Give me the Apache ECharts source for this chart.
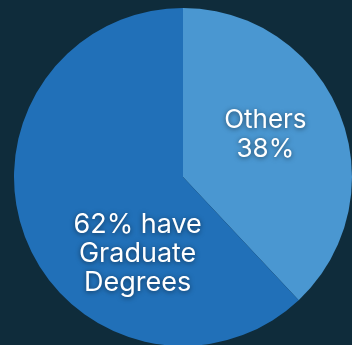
<!DOCTYPE html>
<html>
<head>
<meta charset="utf-8">
<style>
  html, body { margin: 0; padding: 0; background: #0f2c3b; }
  #chart { width: 352px; height: 345px; }
</style>
<script src="https://cdn.jsdelivr.net/npm/echarts@6/dist/echarts.min.js"></script>
</head>
<body>
<div id="chart"></div>
<script>
// Share of people with and without graduate degrees
const categories = ['Others', 'Graduate Degrees'];
const shares = [38, 62];
const labelTexts = ['Others\n38%', '62% have\nGraduate\nDegrees'];

const sliceColors = ['#4a97d1', '#2170b8'];
const labelOffsets = [[1, -10], [36, 45]];
const labelSizes = [26, 27];

const chart = echarts.init(document.getElementById('chart'));
chart.setOption({
  backgroundColor: '#0f2c3b',
  animation: false,
  series: [{
    type: 'pie',
    center: [183, 177],
    radius: [0, 169],
    startAngle: 90,
    clockwise: true,
    silent: true,
    label: {
      position: 'inside',
      color: '#ffffff',
      fontFamily: 'Inter',
      lineHeight: 29,
      align: 'center',
      textShadowColor: 'rgba(0,0,0,0.55)',
      textShadowBlur: 5,
      textShadowOffsetY: 1,
      formatter: p => labelTexts[p.dataIndex]
    },
    labelLine: { show: false },
    data: categories.map((name, i) => ({
      name,
      value: shares[i],
      itemStyle: { color: sliceColors[i] },
      label: { offset: labelOffsets[i], fontSize: labelSizes[i] }
    }))
  }]
});
</script>
</body>
</html>
